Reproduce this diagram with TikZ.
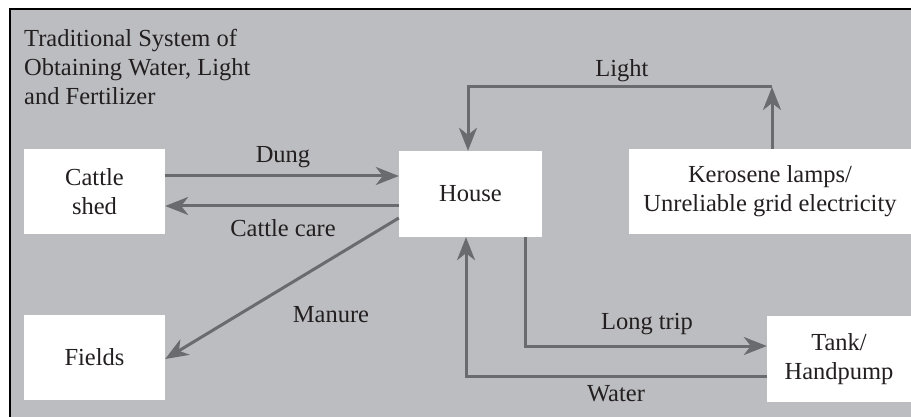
\documentclass[tikz,border=0pt]{standalone}
\usepackage{fontspec}
\setmainfont{Liberation Serif}
\usepackage{tikz}
\usetikzlibrary{arrows.meta}
\definecolor{bggray}{RGB}{188,189,193}
\definecolor{flowgray}{RGB}{106,107,110}
\definecolor{inkblack}{RGB}{35,31,32}

\begin{document}
\begin{tikzpicture}[x=1pt, y=-1pt, font=\fontsize{24.5}{29}\selectfont, text=inkblack,
        box/.style={rectangle, fill=white, inner sep=0pt, align=center},
        flow/.style={draw=flowgray, line width=3pt, -{Stealth[length=23pt, width=18pt, inset=7pt]}},
        lbl/.style={inner sep=0pt}]
        \useasboundingbox (0,0) rectangle (911,417);
        \fill[white] (0,0) rectangle (911,417);
        \begin{scope}
            \clip (0,0) rectangle (911,417);
            \draw[fill=bggray, draw=black, line width=2pt] (9.5,9) rectangle (920,425);
        \end{scope}

        \node[lbl, anchor=north west, align=left] (title) at (24,29) {Traditional System of\\Obtaining Water, Light\\and Fertilizer};

        \node[box, minimum width=141pt, minimum height=85pt] (shed) at (94.5,191.5) {Cattle\\shed};
        \node[box, minimum width=141pt, minimum height=85pt] (fields) at (94.5,357.5) {Fields};
        \node[box, minimum width=143pt, minimum height=86pt] (house) at (470.5,194) {House};
        \node[box, minimum width=282pt, minimum height=85pt] (lamps) at (770,191.5) {Kerosene lamps/\\Unreliable grid electricity};
        \node[box, minimum width=144pt, minimum height=86pt] (tank) at (839,359) {Tank/\\Handpump};

        \coordinate (lightcorner) at (772,87);

        \draw[flow] ([yshift=15.5pt]shed.east) -- ([yshift=15.5pt]shed.east -| house.west);
        \draw[flow] ([yshift=-14.5pt]shed.east -| house.west) -- ([yshift=-14.5pt]shed.east);
        \draw[flow] ([yshift=-24pt]house.west) -- ([yshift=-1.5pt]fields.east);
        \draw[flow] (lightcorner |- lamps.north) -- (lightcorner);
        \draw[flow] (lightcorner) -| ([xshift=-2.5pt]house.north);
        \draw[flow] ([xshift=54.5pt]house.south) |- ([yshift=13pt]tank.west);
        \draw[flow] ([yshift=-17pt]tank.west) -| ([xshift=-4.5pt]house.south);

        \node[lbl] (dung) at (283,157) {Dung};
        \node[lbl] (care) at (283,228) {Cattle care};
        \node[lbl] (manure) at (331,315) {Manure};
        \node[lbl] (light) at (622,71) {Light};
        \node[lbl] (trip) at (647,324) {Long trip};
        \node[lbl] (water) at (616,394) {Water};
    \end{tikzpicture}
\end{document}
